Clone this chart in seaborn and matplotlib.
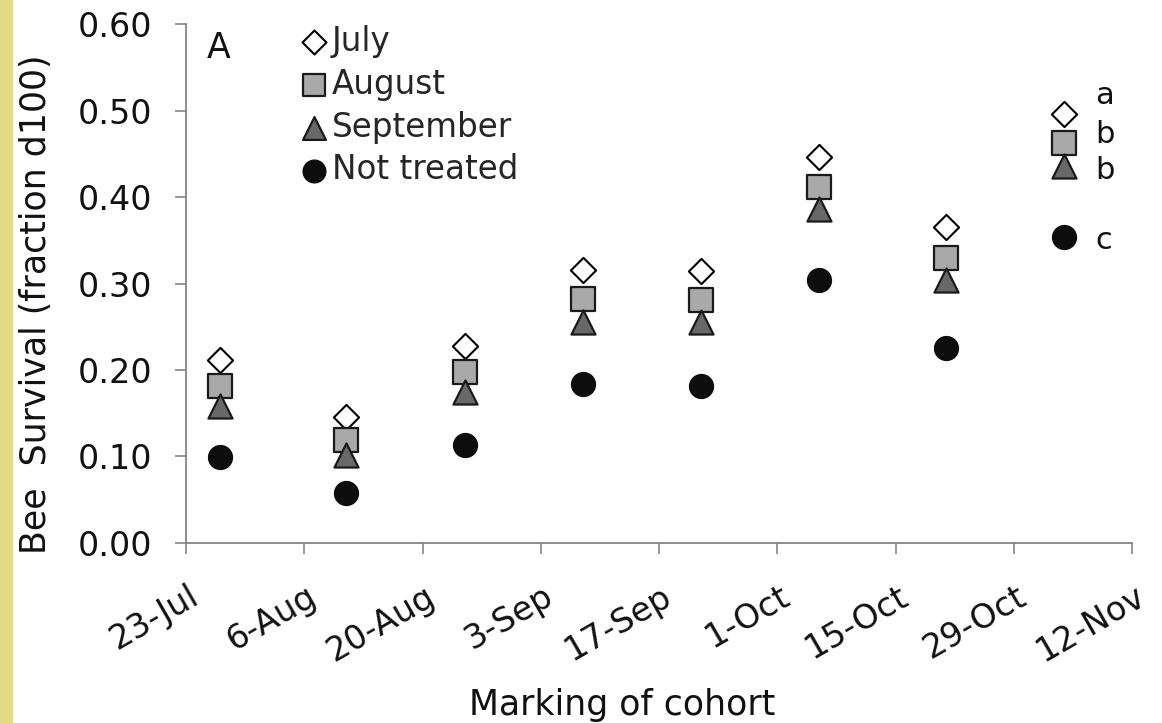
import matplotlib
matplotlib.use("Agg")
import matplotlib.pyplot as plt
import matplotlib.transforms as mtransforms
from matplotlib.patches import Rectangle
import numpy as np
import pandas as pd
import seaborn as sns

# ---- data -------------------------------------------------------------
year = 2007
cohort_dates = ["27-Jul", "11-Aug", "25-Aug", "8-Sep", "22-Sep", "6-Oct", "21-Oct", "4-Nov"]
july = [0.211, 0.145, 0.228, 0.316, 0.315, 0.446, 0.365, 0.496]
august = [0.181, 0.119, 0.197, 0.282, 0.281, 0.412, 0.330, 0.463]
september = [0.158, 0.102, 0.174, 0.256, 0.255, 0.386, 0.304, 0.436]
not_treated = [0.099, 0.058, 0.113, 0.184, 0.181, 0.304, 0.225, 0.354]
series_names = ["July", "August", "September", "Not treated"]
significance = ["a", "b", "b", "c"]
tick_labels = ["23-Jul", "6-Aug", "20-Aug", "3-Sep", "17-Sep", "1-Oct", "15-Oct", "29-Oct", "12-Nov"]
y_ticks = [0.0, 0.1, 0.2, 0.3, 0.4, 0.5, 0.6]


def to_date(label):
    return pd.to_datetime(f"{label}-{year}", format="%d-%b-%Y")


dates = [to_date(d) for d in cohort_dates]
tick_dates = [to_date(t) for t in tick_labels]

df = pd.DataFrame({
    "date": dates * 4,
    "survival": july + august + september + not_treated,
    "series": np.repeat(series_names, len(dates)),
})

# ---- style ------------------------------------------------------------
sns.set_theme(style="white")
plt.rcParams["font.family"] = ["DejaVu Sans"]

styles = {
    "July": dict(marker="D", s=165, color="white", edgecolor="black", linewidth=1.5),
    "August": dict(marker="s", s=300, color="#a9a9a9", edgecolor="#1a1a1a", linewidth=1.6),
    "September": dict(marker="^", s=300, color="#686868", edgecolor="#1a1a1a", linewidth=1.6),
    "Not treated": dict(marker="o", s=295, color="#0d0d0d", edgecolor="#0d0d0d", linewidth=1.0),
}

fig = plt.figure(figsize=(11.62, 7.23), dpi=100)
fig.patch.set_facecolor("white")
# decorative strip on the left edge of the page
fig.patches.append(Rectangle((0, 0), 13 / 1162, 1, transform=fig.transFigure,
                             facecolor="#e0db84", edgecolor="none", zorder=0))

ax = fig.add_axes([186 / 1162, 1 - 542.7 / 723, 946 / 1162, 518.4 / 723])

for name in series_names:
    sub = df[df["series"] == name]
    sns.scatterplot(data=sub, x="date", y="survival", ax=ax, label=name,
                    zorder=3, **styles[name])

# significance letters next to the last cohort
last = df[df["date"] == dates[-1]].set_index("series")["survival"]
letter_offsets = [7, 0, -9.5, -8.5]
for name, letter, dy in zip(series_names, significance, letter_offsets):
    ax.annotate(letter, xy=(dates[-1], last[name]), xytext=(22, dy),
                textcoords="offset points", ha="left", va="baseline",
                fontsize=22, color="#111111")

# ---- axes -------------------------------------------------------------
ax.set_xlim(tick_dates[0], tick_dates[-1])
ax.set_ylim(0, 0.6)
ax.set_xticks(tick_dates)
ax.set_xticklabels(tick_labels)
ax.set_yticks(y_ticks)
ax.set_yticklabels([f"{v:.2f}" for v in y_ticks])

for side in ("top", "right"):
    ax.spines[side].set_visible(False)
for side in ("left", "bottom"):
    ax.spines[side].set_color("#858585")
    ax.spines[side].set_linewidth(1.3)

ax.tick_params(axis="y", direction="out", length=8, width=1.2, color="#858585",
               labelsize=24, pad=16, left=True, labelcolor="#111111")
ax.tick_params(axis="x", direction="out", length=8, width=1.2, color="#858585",
               labelsize=24, pad=18.5, bottom=True, labelcolor="#111111")

shift = mtransforms.ScaledTranslation(2 / 100, 0, fig.dpi_scale_trans)
for lbl in ax.get_xticklabels():
    lbl.set_rotation(30)
    lbl.set_rotation_mode("anchor")
    lbl.set_ha("right")
    lbl.set_va("top")
    lbl.set_transform(lbl.get_transform() + shift)

ax.set_xlabel("Marking of cohort", fontsize=25, color="#111111")
ax.xaxis.set_label_coords((622 - 186) / 946, (542.7 - 715) / 518.4)
ax.xaxis.label.set_va("baseline")
ax.set_ylabel("Bee  Survival (fraction d100)", fontsize=25, color="#111111")
ax.yaxis.set_label_coords((36 - 186) / 946, (542.7 - 304) / 518.4)
ax.yaxis.label.set_va("center")

ax.text((207 - 186) / 946, (542.7 - 58) / 518.4, "A", transform=ax.transAxes,
        fontsize=25, ha="left", va="baseline", color="#111111")

ax.legend(loc="upper left", bbox_to_anchor=((304 - 186) / 946, (542.7 - 25) / 518.4),
          frameon=False, fontsize=23.5, borderpad=0, borderaxespad=0,
          handlelength=0.6, handletextpad=0.25, labelspacing=0.30,
          markerscale=0.95)

ax.grid(False)
fig.savefig("out.png", dpi=100, facecolor="white")
